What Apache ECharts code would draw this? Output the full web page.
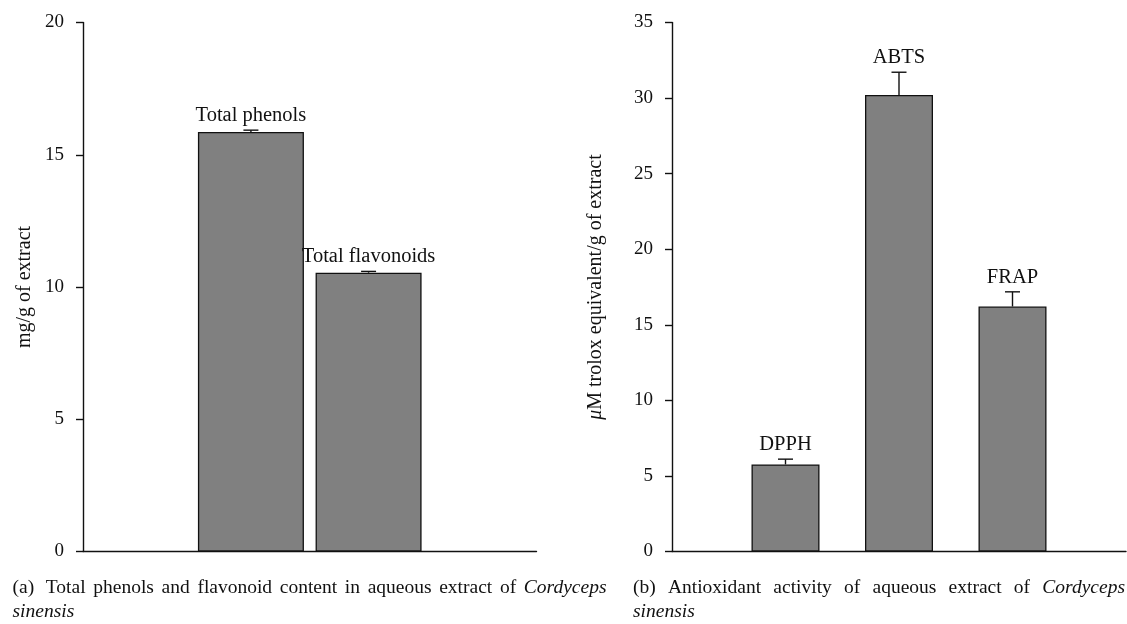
<!DOCTYPE html>
<html><head><meta charset="utf-8">
<script src="https://cdn.jsdelivr.net/npm/echarts@6/dist/echarts.min.js"></script>
<style>html,body{margin:0;padding:0;background:#fff}#c{width:1127px;height:624px}</style>
</head><body><div id="c"></div>
<script>
// ---- data ----
const contentCategories = ['Total phenols', 'Total flavonoids'];
const contentValues = [15.86, 10.54];
const contentErrors = [0.07, 0.05];
const contentTicks = [0, 5, 10, 15, 20];

const activityCategories = ['DPPH', 'ABTS', 'FRAP'];
const activityValues = [5.76, 30.21, 16.21];
const activityErrors = [0.35, 1.5, 0.97];
const activityTicks = [0, 5, 10, 15, 20, 25, 30, 35];

const captionAWords = ['(a)', 'Total', 'phenols', 'and', 'flavonoid', 'content', 'in', 'aqueous', 'extract', 'of', 'Cordyceps'];
const captionAItalic = ['Cordyceps'];
const captionBWords = ['(b)', 'Antioxidant', 'activity', 'of', 'aqueous', 'extract', 'of', 'Cordyceps'];
const captionBItalic = ['Cordyceps'];
const captionLine2 = 'sinensis';
const titleA = 'mg/g of extract';
const titleB = ['μ', 'M trolox equivalent/g of extract'];

// ---- style ----
const FONT = '"Liberation Serif", "DejaVu Serif", serif';
const INK = '#111';
const BAR = '#808080';
const LEFT_BAR_W = 106, LEFT_GAP = 0.11;
const RIGHT_BAR_W = 68;
const CAP = 15;
const CAP_FS = 19.5;

const chart = echarts.init(document.getElementById('c'), null, {renderer: 'canvas'});

// justified caption line built as rich text with measured gaps
const mctx = document.createElement('canvas').getContext('2d');
function justified(words, italics, target, firstExtra) {
  let sum = 0;
  words.forEach(w => {
    mctx.font = (italics.includes(w) ? 'italic ' : '') + CAP_FS + 'px "Liberation Serif"';
    sum += mctx.measureText(w).width;
  });
  const gap = (target - sum - firstExtra) / (words.length - 1);
  let txt = '';
  words.forEach((w, i) => {
    if (i > 0) txt += (i === 1 ? '{h|\u00a0}' : '{g|\u00a0}');
    txt += italics.includes(w) ? '{i|' + w + '}' : '{n|' + w + '}';
  });
  const base = {fontFamily: FONT, fontSize: CAP_FS, fill: INK};
  return {
    text: txt, fontFamily: FONT, fontSize: CAP_FS, fill: INK,
    rich: {
      n: base,
      i: Object.assign({}, base, {fontStyle: 'italic'}),
      g: Object.assign({}, base, {width: gap}),
      h: Object.assign({}, base, {width: gap + firstExtra})
    }
  };
}

function axisCommon() {
  return {axisLine: {show: true, lineStyle: {color: INK, width: 1.4}}};
}
function yAxis(gi, ticks, name, gap) {
  return Object.assign(axisCommon(), {
    type: 'value', gridIndex: gi,
    min: ticks[0], max: ticks[ticks.length - 1], interval: ticks[1] - ticks[0],
    axisTick: {show: true, inside: false, length: 7, lineStyle: {color: INK, width: 1.4}},
    axisLabel: {margin: 19, fontFamily: FONT, fontSize: 19, color: INK},
    splitLine: {show: false},
    name: name, nameLocation: 'middle', nameGap: gap,
    nameTextStyle: {fontFamily: FONT, fontSize: 20, color: INK,
      rich: {i: {fontFamily: FONT, fontSize: 20, fontStyle: 'italic', color: INK}, n: {fontFamily: FONT, fontSize: 20, color: INK}}}
  });
}

function errRender(labels, offsetFn) {
  return function (params, api) {
    const cat = api.value(0), v = api.value(1), e = api.value(2), idx = api.value(3);
    const base = api.coord([cat, v]);
    const top = api.coord([cat, v + e]);
    const x = base[0] + offsetFn(idx);
    return {
      type: 'group',
      children: [
        {type: 'line', shape: {x1: x, y1: base[1], x2: x, y2: top[1]}, style: {stroke: INK, lineWidth: 1.4}},
        {type: 'line', shape: {x1: x - CAP / 2, y1: top[1], x2: x + CAP / 2, y2: top[1]}, style: {stroke: INK, lineWidth: 1.4}},
        {type: 'text', style: {text: labels[idx], x: x, y: top[1] - 4, align: 'center', verticalAlign: 'bottom',
          textAlign: 'center', textVerticalAlign: 'bottom', fontFamily: FONT, fontSize: 20.5, fill: INK}}
      ]
    };
  };
}

const nA = contentCategories.length;
const stepA = LEFT_BAR_W * (1 + LEFT_GAP);

const option = {
  animation: false,
  backgroundColor: '#fff',
  grid: [
    {left: 83, top: 22.5, width: 453.5, height: 529},
    {left: 672, top: 22.5, width: 454, height: 529}
  ],
  xAxis: [
    Object.assign(axisCommon(), {type: 'category', gridIndex: 0, data: [''], boundaryGap: true,
      axisTick: {show: false}, axisLabel: {show: false}}),
    Object.assign(axisCommon(), {type: 'category', gridIndex: 1, data: [''].concat(activityCategories, ['']), boundaryGap: false,
      axisTick: {show: false}, axisLabel: {show: false}})
  ],
  yAxis: [
    yAxis(0, contentTicks, titleA, 48),
    yAxis(1, activityTicks, '{i|' + titleB[0] + '}{n|' + titleB[1] + '}', 66)
  ],
  series: contentCategories.map((c, i) => ({
    type: 'bar', name: c, xAxisIndex: 0, yAxisIndex: 0,
    data: [contentValues[i]], barWidth: LEFT_BAR_W, barGap: (LEFT_GAP * 100) + '%',
    itemStyle: {color: BAR, borderColor: INK, borderWidth: 1.3}
  })).concat([
    {
      type: 'bar', name: 'activity', xAxisIndex: 1, yAxisIndex: 1,
      data: [null].concat(activityValues, [null]), barWidth: RIGHT_BAR_W,
      itemStyle: {color: BAR, borderColor: INK, borderWidth: 1.3}
    },
    {
      type: 'custom', id: 'errA', xAxisIndex: 0, yAxisIndex: 0, z: 5, clip: false,
      data: contentCategories.map((c, i) => [0, contentValues[i], contentErrors[i], i]),
      renderItem: errRender(contentCategories, idx => (idx - (nA - 1) / 2) * stepA)
    },
    {
      type: 'custom', id: 'errB', xAxisIndex: 1, yAxisIndex: 1, z: 5, clip: false,
      data: activityCategories.map((c, i) => [i + 1, activityValues[i], activityErrors[i], i]),
      renderItem: errRender(activityCategories, () => 0)
    }
  ]),
  graphic: [
    {type: 'text', left: 12.5, top: 578, style: justified(captionAWords, captionAItalic, 594, 4)},
    {type: 'text', left: 12.5, top: 602, style: {text: captionLine2, fontFamily: FONT, fontSize: CAP_FS, fontStyle: 'italic', fill: INK}},
    {type: 'text', left: 633, top: 578, style: justified(captionBWords, captionBItalic, 492, 0)},
    {type: 'text', left: 633, top: 602, style: {text: captionLine2, fontFamily: FONT, fontSize: CAP_FS, fontStyle: 'italic', fill: INK}}
  ]
};
chart.setOption(option);
</script>
</body></html>
